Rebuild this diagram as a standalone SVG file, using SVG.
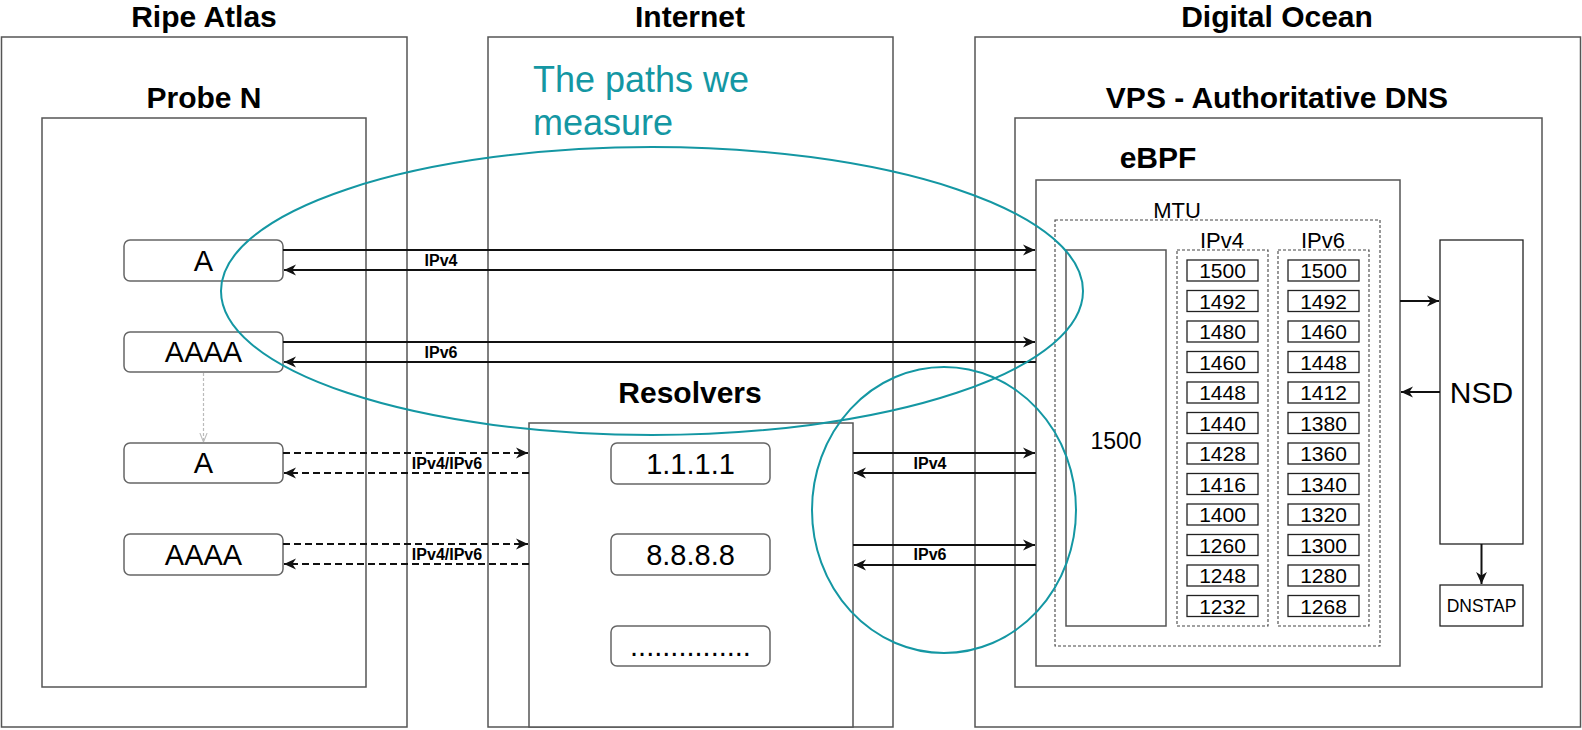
<svg xmlns="http://www.w3.org/2000/svg" width="1582" height="730" viewBox="0 0 1582 730">
<style>
.box{fill:#fff;stroke:#555;stroke-width:1.5}
.rbox{fill:#fff;stroke:#666;stroke-width:1.5}
.nbox{fill:#fff;stroke:#222;stroke-width:1.3}
.dash{fill:none;stroke:#444;stroke-width:1.1;stroke-dasharray:3 2}
.h{font-family:"Liberation Sans",Arial,sans-serif;font-weight:bold;font-size:30px;fill:#000;text-anchor:middle}
.t{font-family:"Liberation Sans",Arial,sans-serif;fill:#000;text-anchor:middle}
.lbl{font-family:"Liberation Sans",Arial,sans-serif;font-weight:bold;font-size:16px;fill:#000;text-anchor:middle}
.num{font-family:"Liberation Sans",Arial,sans-serif;font-size:21px;fill:#000;text-anchor:middle}
.e{fill:none;stroke:#1497a3;stroke-width:2}
.ln{fill:none;stroke:#111;stroke-width:2}
.dl{fill:none;stroke:#111;stroke-width:2;stroke-dasharray:7 4}
</style>
<defs>
<marker id="arr" viewBox="0 0 10 10" refX="10" refY="5" markerWidth="12" markerHeight="12" markerUnits="userSpaceOnUse" orient="auto">
<path d="M0,0.5 L10,5 L0,9.5 L3,5 z" fill="#111"/>
</marker>
<marker id="garr" viewBox="0 0 10 10" refX="10" refY="5" markerWidth="9" markerHeight="9" markerUnits="userSpaceOnUse" orient="auto">
<path d="M0,1 L10,5 L0,9" fill="none" stroke="#bbb" stroke-width="1.2"/>
</marker>
</defs>
<rect width="1582" height="730" fill="#fff"/>

<g id="ripe-atlas">
<rect class="box" x="1.5" y="37" width="405.5" height="690"/>
<text class="h" x="204" y="27">Ripe Atlas</text>
</g>
<g id="probe-n">
<rect class="box" x="42" y="118" width="324" height="569"/>
<text class="h" x="204" y="108">Probe N</text>
</g>
<g id="internet">
<rect class="box" x="488" y="37" width="405" height="690"/>
<text class="h" x="690" y="27">Internet</text>
</g>
<g id="digital-ocean">
<rect class="box" x="975" y="37" width="605.5" height="690"/>
<text class="h" x="1277" y="27">Digital Ocean</text>
</g>
<g id="vps">
<rect class="box" x="1015" y="118" width="527" height="569"/>
<text class="h" x="1277" y="108">VPS - Authoritative DNS</text>
</g>
<g id="ebpf">
<rect class="box" x="1036" y="180" width="364" height="486"/>
<text class="h" x="1158" y="168">eBPF</text>
</g>
<g id="mtu">
<rect class="dash" x="1055" y="220" width="325" height="426"/>
<text class="t" x="1177" y="218" font-size="22">MTU</text>
</g>
<g id="mtu-1500">
<rect class="box" x="1066" y="250" width="100" height="376"/>
<text class="t" x="1116" y="449" font-size="23">1500</text>
</g>
<g id="mtu-ipv4">
<rect class="dash" x="1177" y="250" width="91" height="376"/>
<text class="t" x="1222" y="248" font-size="22">IPv4</text>
<rect class="nbox" x="1187" y="260" width="71" height="21"/><text class="num" x="1222.5" y="278">1500</text>
<rect class="nbox" x="1187" y="290.5" width="71" height="21"/><text class="num" x="1222.5" y="308.5">1492</text>
<rect class="nbox" x="1187" y="321" width="71" height="21"/><text class="num" x="1222.5" y="339">1480</text>
<rect class="nbox" x="1187" y="351.5" width="71" height="21"/><text class="num" x="1222.5" y="369.5">1460</text>
<rect class="nbox" x="1187" y="382" width="71" height="21"/><text class="num" x="1222.5" y="400">1448</text>
<rect class="nbox" x="1187" y="412.5" width="71" height="21"/><text class="num" x="1222.5" y="430.5">1440</text>
<rect class="nbox" x="1187" y="443" width="71" height="21"/><text class="num" x="1222.5" y="461">1428</text>
<rect class="nbox" x="1187" y="473.5" width="71" height="21"/><text class="num" x="1222.5" y="491.5">1416</text>
<rect class="nbox" x="1187" y="504" width="71" height="21"/><text class="num" x="1222.5" y="522">1400</text>
<rect class="nbox" x="1187" y="534.5" width="71" height="21"/><text class="num" x="1222.5" y="552.5">1260</text>
<rect class="nbox" x="1187" y="565" width="71" height="21"/><text class="num" x="1222.5" y="583">1248</text>
<rect class="nbox" x="1187" y="595.5" width="71" height="21"/><text class="num" x="1222.5" y="613.5">1232</text>
</g>
<g id="mtu-ipv6">
<rect class="dash" x="1278" y="250" width="91" height="376"/>
<text class="t" x="1323" y="248" font-size="22">IPv6</text>
<rect class="nbox" x="1288" y="260" width="71" height="21"/><text class="num" x="1323.5" y="278">1500</text>
<rect class="nbox" x="1288" y="290.5" width="71" height="21"/><text class="num" x="1323.5" y="308.5">1492</text>
<rect class="nbox" x="1288" y="321" width="71" height="21"/><text class="num" x="1323.5" y="339">1460</text>
<rect class="nbox" x="1288" y="351.5" width="71" height="21"/><text class="num" x="1323.5" y="369.5">1448</text>
<rect class="nbox" x="1288" y="382" width="71" height="21"/><text class="num" x="1323.5" y="400">1412</text>
<rect class="nbox" x="1288" y="412.5" width="71" height="21"/><text class="num" x="1323.5" y="430.5">1380</text>
<rect class="nbox" x="1288" y="443" width="71" height="21"/><text class="num" x="1323.5" y="461">1360</text>
<rect class="nbox" x="1288" y="473.5" width="71" height="21"/><text class="num" x="1323.5" y="491.5">1340</text>
<rect class="nbox" x="1288" y="504" width="71" height="21"/><text class="num" x="1323.5" y="522">1320</text>
<rect class="nbox" x="1288" y="534.5" width="71" height="21"/><text class="num" x="1323.5" y="552.5">1300</text>
<rect class="nbox" x="1288" y="565" width="71" height="21"/><text class="num" x="1323.5" y="583">1280</text>
<rect class="nbox" x="1288" y="595.5" width="71" height="21"/><text class="num" x="1323.5" y="613.5">1268</text>
</g>
<g id="nsd">
<rect class="nbox" x="1440" y="240" width="83" height="304"/>
<text class="t" x="1481.5" y="403" font-size="30">NSD</text>
</g>
<g id="dnstap">
<rect class="nbox" x="1440" y="585" width="83" height="41"/>
<text class="t" x="1481.5" y="612" font-size="17.5">DNSTAP</text>
</g>
<g id="resolvers">
<rect class="box" x="529" y="423" width="324" height="304"/>
<text class="h" x="690" y="403">Resolvers</text>
</g>
<g id="resolver-1111">
<rect class="rbox" x="611" y="443" width="159" height="41" rx="6"/>
<text class="t" x="690.5" y="474" font-size="29">1.1.1.1</text>
</g>
<g id="resolver-8888">
<rect class="rbox" x="611" y="534" width="159" height="41" rx="6"/>
<text class="t" x="690.5" y="565" font-size="29">8.8.8.8</text>
</g>
<g id="resolver-more">
<rect class="rbox" x="611" y="626" width="159" height="40" rx="6"/>
<text class="t" x="690.5" y="656" font-size="29">...............</text>
</g>
<g id="probe-a-direct">
<rect class="rbox" x="124" y="240" width="159" height="41" rx="6"/>
<text class="t" x="203.5" y="271" font-size="29">A</text>
</g>
<g id="probe-aaaa-direct">
<rect class="rbox" x="124" y="332" width="159" height="40" rx="6"/>
<text class="t" x="203.5" y="362" font-size="29">AAAA</text>
</g>
<g id="probe-a-resolver">
<rect class="rbox" x="124" y="443" width="159" height="40" rx="6"/>
<text class="t" x="203.5" y="473" font-size="29">A</text>
</g>
<g id="probe-aaaa-resolver">
<rect class="rbox" x="124" y="534" width="159" height="41" rx="6"/>
<text class="t" x="203.5" y="565" font-size="29">AAAA</text>
</g>

<g id="connectors">
<line class="ln" x1="283" y1="250" x2="1035" y2="250" marker-end="url(#arr)"/>
<line class="ln" x1="1036" y1="270" x2="284" y2="270" marker-end="url(#arr)"/>
<text class="lbl" x="441" y="266">IPv4</text>
<line class="ln" x1="283" y1="342" x2="1035" y2="342" marker-end="url(#arr)"/>
<line class="ln" x1="1036" y1="362" x2="284" y2="362" marker-end="url(#arr)"/>
<text class="lbl" x="441" y="358">IPv6</text>
<line x1="203.5" y1="373" x2="203.5" y2="442" stroke="#bbb" stroke-width="1.2" stroke-dasharray="3 2" marker-end="url(#garr)"/>
<line class="dl" x1="283" y1="453" x2="528" y2="453" marker-end="url(#arr)"/>
<line class="dl" x1="529" y1="473" x2="284" y2="473" marker-end="url(#arr)"/>
<text class="lbl" x="447" y="469">IPv4/IPv6</text>
<line class="dl" x1="283" y1="544" x2="528" y2="544" marker-end="url(#arr)"/>
<line class="dl" x1="529" y1="564" x2="284" y2="564" marker-end="url(#arr)"/>
<text class="lbl" x="447" y="560">IPv4/IPv6</text>
<line class="ln" x1="853" y1="453" x2="1035" y2="453" marker-end="url(#arr)"/>
<line class="ln" x1="1036" y1="473" x2="854" y2="473" marker-end="url(#arr)"/>
<text class="lbl" x="930" y="469">IPv4</text>
<line class="ln" x1="853" y1="545" x2="1035" y2="545" marker-end="url(#arr)"/>
<line class="ln" x1="1036" y1="565" x2="854" y2="565" marker-end="url(#arr)"/>
<text class="lbl" x="930" y="560">IPv6</text>
<line class="ln" x1="1400" y1="301" x2="1439" y2="301" marker-end="url(#arr)"/>
<line class="ln" x1="1440" y1="392" x2="1401" y2="392" marker-end="url(#arr)"/>
<line class="ln" x1="1481.5" y1="544" x2="1481.5" y2="584" marker-end="url(#arr)"/>
</g>

<g id="measured-paths">
<ellipse class="e" cx="652" cy="291" rx="431" ry="144"/>
<ellipse class="e" cx="944" cy="510" rx="132" ry="143"/>
<text x="533" y="92" font-family="'Liberation Sans',Arial,sans-serif" font-size="36" fill="#1497a3">The paths we</text>
<text x="533" y="135" font-family="'Liberation Sans',Arial,sans-serif" font-size="36" fill="#1497a3">measure</text>
</g>
</svg>
